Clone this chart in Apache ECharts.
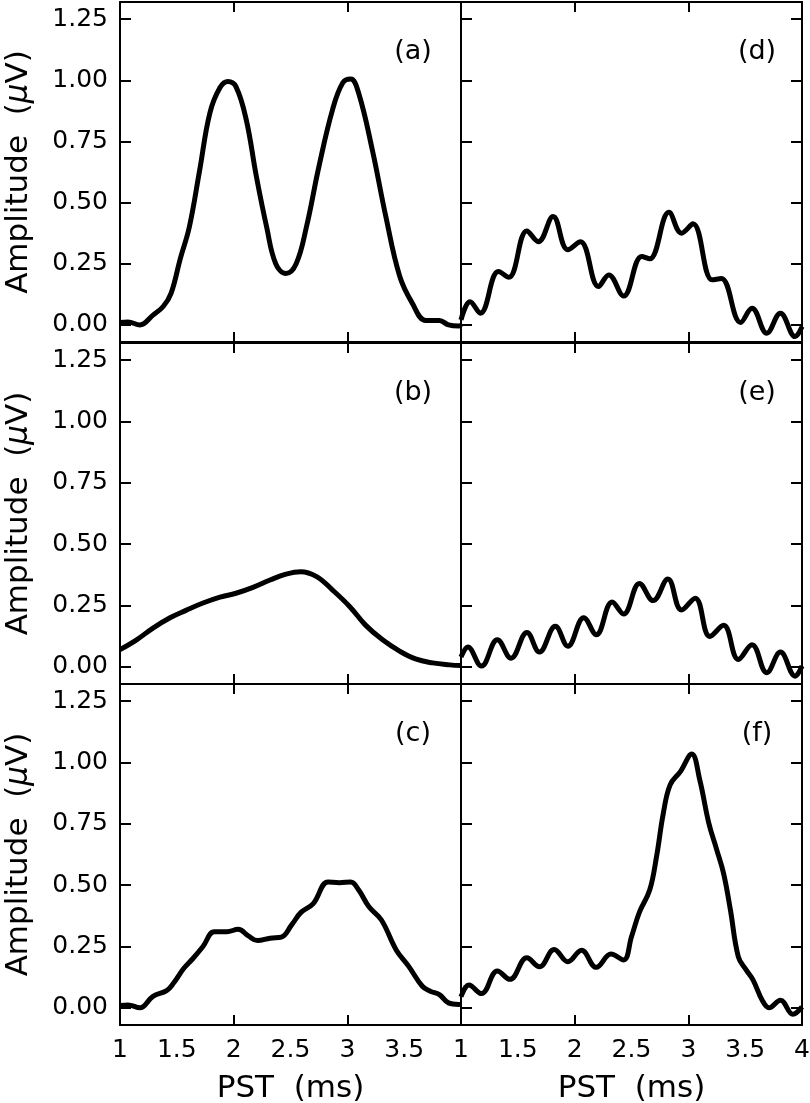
<!DOCTYPE html>
<html>
<head>
<meta charset="utf-8">
<script src="https://cdn.jsdelivr.net/npm/echarts@6/dist/echarts.min.js"></script>
<style>
  html, body { margin: 0; padding: 0; background: #fff; }
  #chart { width: 810px; height: 1103px; }
</style>
</head>
<body>
<div id="chart"></div>
<script>
// PST (ms) and amplitude (uV)
const pstA = [1.0, 1.07, 1.175, 1.29, 1.38, 1.45, 1.53, 1.61, 1.70, 1.79, 1.88, 1.95, 2.02, 2.11, 2.20, 2.29, 2.37, 2.46, 2.55, 2.64, 2.75, 2.87, 2.96, 3.03, 3.10, 3.22, 3.34, 3.46, 3.57, 3.69, 3.81, 3.89, 3.98, 4.0]
const ampA = [0.01, 0.012, 0.0, 0.04, 0.075, 0.13, 0.27, 0.40, 0.63, 0.865, 0.97, 0.995, 0.974, 0.84, 0.606, 0.40, 0.25, 0.21, 0.25, 0.40, 0.647, 0.88, 0.99, 1.005, 0.947, 0.715, 0.44, 0.20, 0.09, 0.018, 0.018, 0.0, -0.005, 0.0]

const pstB = [1.0, 1.146, 1.29, 1.44, 1.58, 1.73, 1.88, 2.02, 2.17, 2.32, 2.46, 2.59, 2.73, 2.87, 3.02, 3.16, 3.31, 3.46, 3.60, 3.75, 3.90, 4.0]
const ampB = [0.07, 0.11, 0.158, 0.20, 0.23, 0.26, 0.284, 0.30, 0.324, 0.354, 0.378, 0.388, 0.368, 0.313, 0.246, 0.17, 0.11, 0.064, 0.032, 0.016, 0.008, 0.005]

const pstC = [1.0, 1.07, 1.175, 1.29, 1.41, 1.47, 1.56, 1.64, 1.73, 1.83, 1.94, 2.04, 2.13, 2.21, 2.32, 2.42, 2.51, 2.59, 2.70, 2.83, 2.93, 3.03, 3.10, 3.19, 3.30, 3.43, 3.54, 3.66, 3.73, 3.81, 3.89, 3.98, 4.0]
const ampC = [0.01, 0.012, 0.0, 0.047, 0.07, 0.10, 0.16, 0.20, 0.25, 0.31, 0.31, 0.32, 0.293, 0.274, 0.284, 0.288, 0.338, 0.388, 0.425, 0.513, 0.51, 0.513, 0.48, 0.412, 0.358, 0.236, 0.169, 0.088, 0.068, 0.054, 0.02, 0.014, 0.015]

const pstD = [1.0, 1.08, 1.17, 1.33, 1.42, 1.58, 1.68, 1.81, 1.94, 2.05, 2.21, 2.30, 2.43, 2.59, 2.66, 2.83, 2.94, 3.04, 3.21, 3.29, 3.46, 3.56, 3.69, 3.81, 3.94, 4.0]
const ampD = [0.02, 0.095, 0.048, 0.218, 0.195, 0.384, 0.34, 0.443, 0.307, 0.34, 0.157, 0.204, 0.118, 0.28, 0.27, 0.46, 0.375, 0.413, 0.184, 0.19, 0.01, 0.068, -0.034, 0.048, -0.048, -0.007]

const pstE = [1.0, 1.06, 1.18, 1.32, 1.44, 1.58, 1.69, 1.83, 1.94, 2.08, 2.19, 2.33, 2.43, 2.57, 2.69, 2.82, 2.94, 3.06, 3.19, 3.31, 3.44, 3.56, 3.69, 3.81, 3.94, 4.0]
const ampE = [0.04, 0.081, 0.003, 0.11, 0.035, 0.14, 0.06, 0.165, 0.084, 0.20, 0.131, 0.264, 0.215, 0.34, 0.27, 0.358, 0.232, 0.28, 0.124, 0.169, 0.03, 0.09, -0.024, 0.06, -0.038, 0.003]

const pstF = [1.0, 1.07, 1.18, 1.32, 1.43, 1.58, 1.69, 1.82, 1.94, 2.06, 2.19, 2.32, 2.43, 2.50, 2.57, 2.66, 2.72, 2.78, 2.84, 2.93, 3.03, 3.10, 3.18, 3.25, 3.31, 3.37, 3.44, 3.51, 3.57, 3.65, 3.71, 3.81, 3.92, 4.0]
const ampF = [0.045, 0.093, 0.058, 0.15, 0.116, 0.204, 0.167, 0.238, 0.188, 0.235, 0.165, 0.219, 0.195, 0.29, 0.39, 0.48, 0.616, 0.793, 0.909, 0.963, 1.035, 0.93, 0.753, 0.644, 0.548, 0.40, 0.208, 0.154, 0.113, 0.031, 0.0, 0.031, -0.026, 0.004]

const panelNames = ['(a)', '(b)', '(c)', '(d)', '(e)', '(f)']
const yTicks = [0, 0.25, 0.5, 0.75, 1.0, 1.25]
const xTicks = [2, 3]
const xLabelsLeft = [1, 1.5, 2, 2.5, 3, 3.5]
const xLabelsRight = [1, 1.5, 2, 2.5, 3, 3.5, 4]

const pst = [pstA, pstB, pstC, pstD, pstE, pstF]
const amp = [ampA, ampB, ampC, ampD, ampE, ampF]

const FONT = 'DejaVu Sans'
const chart = echarts.init(document.getElementById('chart'))

const grids = []
const xAxes = []
const yAxes = []
const series = []
const graphics = []

const lineStyle = { color: '#000', width: 2 }

for (let i = 0; i < 6; i++) {
  const col = Math.floor(i / 3)
  const row = i % 3
  const left = col === 0 ? 120 : 461
  const top = [2, 343, 684][row]
  const height = row === 0 ? 340 : 341
  grids.push({ left: left, top: top, width: 341, height: height, outerBoundsMode: 'none' })

  const isBottom = row === 2
  xAxes.push({
    type: 'value', gridIndex: i, position: 'bottom', min: 1, max: 4,
    axisLine: { show: true, onZero: false, lineStyle },
    axisTick: { show: true, inside: true, length: 10, lineStyle, customValues: xTicks },
    axisLabel: {
      show: isBottom, margin: 13, color: '#000', fontFamily: FONT, fontSize: 25,
      customValues: col === 0 ? xLabelsLeft : xLabelsRight
    },
    splitLine: { show: false },
    name: isBottom ? 'PST  (ms)' : '', nameLocation: 'middle', nameGap: 48,
    nameTextStyle: { color: '#000', fontFamily: FONT, fontSize: 31 }
  })
  xAxes.push({
    type: 'value', gridIndex: i, position: 'top', min: 1, max: 4,
    axisLine: { show: true, onZero: false, lineStyle },
    axisTick: { show: true, inside: true, length: 10, lineStyle, customValues: xTicks },
    axisLabel: { show: false },
    splitLine: { show: false }
  })

  yAxes.push({
    type: 'value', gridIndex: i, position: 'left', min: -0.07, max: 1.32,
    axisLine: { show: true, onZero: false, lineStyle },
    axisTick: { show: true, inside: true, length: 11, lineStyle, customValues: yTicks },
    axisLabel: {
      show: col === 0, margin: 12, color: '#000', fontFamily: FONT, fontSize: 25,
      customValues: yTicks, formatter: v => v.toFixed(2)
    },
    splitLine: { show: false },
    name: col === 0 ? 'Amplitude  ({mu|μ}V)' : '', nameLocation: 'middle', nameGap: 86,
    nameTextStyle: {
      color: '#000', fontFamily: FONT, fontSize: 31,
      rich: { mu: { fontStyle: 'italic', fontFamily: FONT, fontSize: 31, color: '#000' } }
    }
  })
  yAxes.push({
    type: 'value', gridIndex: i, position: 'right', min: -0.07, max: 1.32,
    axisLine: { show: true, onZero: false, lineStyle },
    axisTick: { show: col === 1, inside: true, length: 11, lineStyle, customValues: yTicks },
    axisLabel: { show: false },
    splitLine: { show: false }
  })

  series.push({
    type: 'line',
    xAxisIndex: 2 * i,
    yAxisIndex: 2 * i,
    data: pst[i].map((x, k) => [x, amp[i][k]]),
    smooth: 0.4,
    showSymbol: false,
    clip: true,
    lineStyle: { color: '#000', width: 5 },
    silent: true
  })

  graphics.push({
    type: 'text',
    x: col === 0 ? 413 : 757,
    y: top + 50,
    style: {
      text: panelNames[i], fill: '#000', font: '27px "' + FONT + '"',
      align: 'center', verticalAlign: 'middle'
    }
  })
}

chart.setOption({
  animation: false,
  backgroundColor: '#fff',
  grid: grids,
  xAxis: xAxes,
  yAxis: yAxes,
  series: series,
  graphic: graphics
})

window.addEventListener('resize', () => chart.resize())
</script>
</body>
</html>
